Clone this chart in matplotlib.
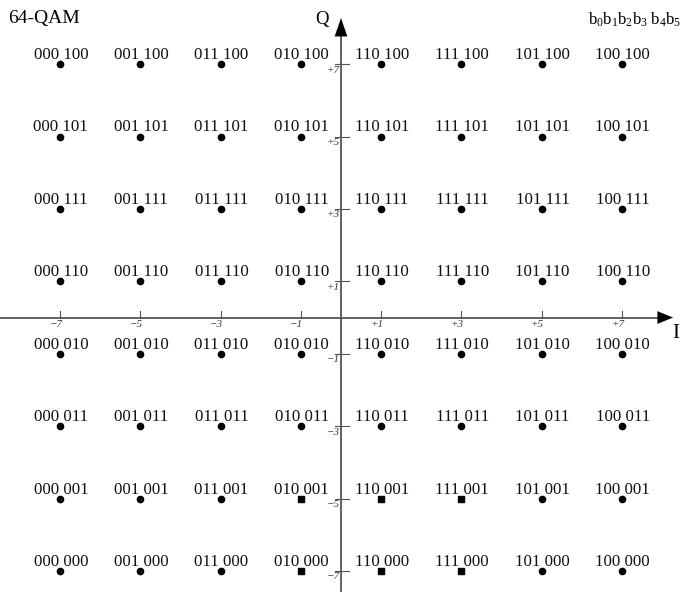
import matplotlib
matplotlib.use("Agg")
import matplotlib.pyplot as plt
import numpy as np

plt.rcParams['font.family'] = ['Liberation Serif', 'DejaVu Serif']
plt.rcParams['mathtext.fontset'] = 'custom'
plt.rcParams['mathtext.rm'] = 'Liberation Serif'
plt.rcParams['mathtext.it'] = 'Liberation Serif:italic'

# Data
i_levels = [-7, -5, -3, -1, 1, 3, 5, 7]
q_levels = [7, 5, 3, 1, -1, -3, -5, -7]
i_codes = ["000", "001", "011", "010", "110", "111", "101", "100"]
q_codes = ["100", "101", "111", "110", "010", "011", "001", "000"]
i_tick_labels = ["\u22127", "\u22125", "\u22123", "\u22121", "+1", "+3", "+5", "+7"]
q_tick_labels = ["+7", "+5", "+3", "+1", "\u22121", "\u22123", "\u22125", "\u22127"]
square_points = ["010 001", "110 001", "111 001", "010 000", "110 000", "111 000"]

fig = plt.figure(figsize=(6.85, 5.92), dpi=100)
ax = fig.add_axes([0, 0, 1, 1])
ax.set_xlim(-8.495, 8.57)
ax.set_ylim(-7.58, 8.77)
ax.axis('off')

axis_col = '#555555'
# I axis
ax.plot([-8.5, 7.9], [0, 0], color=axis_col, lw=1.3, zorder=1)
ax.annotate('', xy=(8.27, 0), xytext=(7.8, 0),
            arrowprops=dict(arrowstyle='-|>,head_length=1.1,head_width=0.45',
                            color='black', lw=0.1, shrinkA=0, shrinkB=0))
# Q axis
ax.plot([0, 0], [-7.55, 7.8], color=axis_col, lw=1.3, zorder=1)
ax.annotate('', xy=(0, 8.27), xytext=(0, 7.7),
            arrowprops=dict(arrowstyle='-|>,head_length=1.3,head_width=0.45',
                            color='black', lw=0.1, shrinkA=0, shrinkB=0))

# Ticks on I axis
for x, lab in zip(i_levels, i_tick_labels):
    ax.plot([x, x], [0, 0.17], color=axis_col, lw=0.8)
    ax.text(x + 0.06, -0.06, lab, ha='right', va='top', fontsize=8,
            style='italic', color='#333333')
# Ticks on Q axis
for y, lab in zip(q_levels, q_tick_labels):
    ax.plot([-0.15, 0.2], [y, y], color=axis_col, lw=0.8)
    ax.text(-0.02, y - 0.04, lab, ha='right', va='top', fontsize=8,
            style='italic', color='#333333')

# Constellation points
for x, ic in zip(i_levels, i_codes):
    for y, qc in zip(q_levels, q_codes):
        lab = f"{ic} {qc}"
        marker = 's' if lab in square_points else 'o'
        ms = 3.8 if marker == 's' else 4.5
        ax.plot(x, y, marker=marker, color='black', ms=ms, zorder=3)
        ax.text(x + 0.02, y + 0.14, lab, ha='center', va='baseline',
                fontsize=12.2, color='#111111')

# Titles / axis names
ax.text(-8.3, 8.25, "64-QAM", ha='left', va='center', fontsize=14)
ax.text(-0.47, 8.22, "Q", ha='center', va='center', fontsize=13.5)
ax.text(8.33, -0.43, "I", ha='center', va='center', fontsize=15)
ax.text(8.47, 8.22, r"$\mathrm{b_0b_1b_2b_3\ b_4b_5}$", ha='right', va='center',
        fontsize=12)

fig.savefig("out.png", dpi=100)
